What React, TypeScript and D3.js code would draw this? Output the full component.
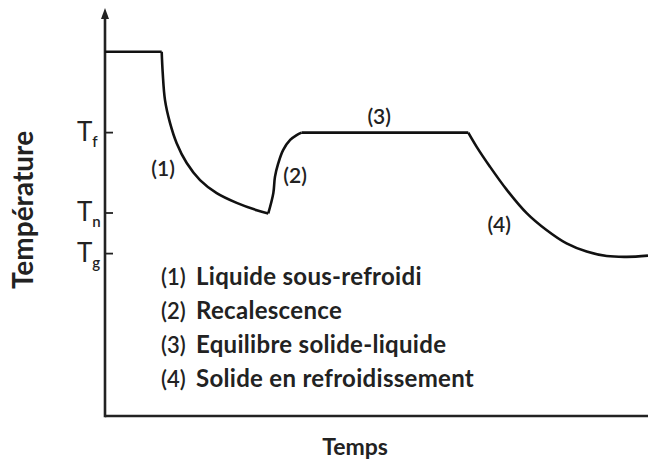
import React from "react";
import * as d3 from "d3";

// temps (unités arbitraires) et température pour chaque phase
const timeInitial = [0, 10.44];
const tempInitial = [89.7, 89.7];
const timeSousRefroidi = [10.44, 10.63, 11.05, 11.97, 13.2, 15.05, 17.5, 20.57, 24.25, 27.94, 30.07];
const tempSousRefroidi = [89.7, 84.5, 77.8, 72.2, 67.2, 62.3, 58.1, 54.9, 52.5, 50.7, 49.9];
const timeRecalescence = [30.07, 31.0, 31.3, 31.9, 32.8, 34.1, 35.3, 36.2];
const tempRecalescence = [49.9, 54.9, 58.9, 62.2, 65.5, 68.0, 69.2, 69.8];
const timeEquilibre = [36.2, 66.9];
const tempEquilibre = [69.8, 69.8];
const timeSolide = [66.9, 68.45, 70.9, 74.0, 77.7, 81.3, 85.0, 88.7, 92.4, 96.1, 100];
const tempSolide = [69.8, 66.3, 61.4, 55.7, 49.9, 45.8, 42.5, 40.5, 39.4, 39.2, 39.5];

const tickValues = [69.8, 50, 40];
const tickSubs = ["f", "n", "g"];

const phaseLabels = ["(1)", "(2)", "(3)", "(4)"];
const phaseLabelTime = [10.7, 35.0, 50.5, 72.6];
const phaseLabelTemp = [59.1, 57.4, 71.9, 45.3];

const legendNums = ["(1)", "(2)", "(3)", "(4)"];
const legendTexts = [
  "Liquide sous-refroidi",
  "Recalescence",
  "Equilibre solide-liquide",
  "Solide en refroidissement",
];

const W = 648;
const H = 463;
const FONT = "Lato, 'Open Sans', sans-serif";

export default function App() {
  const x = d3.scaleLinear().domain([0, 100]).range([105, 648]);
  const y = d3.scaleLinear().domain([0, 100]).range([416, 10]);

  const smooth = d3
    .line<[number, number]>()
    .x((d) => x(d[0]))
    .y((d) => y(d[1]))
    .curve(d3.curveCatmullRom.alpha(0.5));
  const straight = d3
    .line<[number, number]>()
    .x((d) => x(d[0]))
    .y((d) => y(d[1]));

  const zip = (t: number[], v: number[]) => t.map((d, i) => [d, v[i]] as [number, number]);

  const paths = [
    straight(zip(timeInitial, tempInitial)),
    smooth(zip(timeSousRefroidi, tempSousRefroidi)),
    smooth(zip(timeRecalescence, tempRecalescence)),
    straight(zip(timeEquilibre, tempEquilibre)),
    smooth(zip(timeSolide, tempSolide)),
  ];

  const x0 = x(0);
  const yBase = y(0);

  return (
    <svg
      width={W}
      height={H}
      style={{ position: "absolute", left: 0, top: 0, background: "#fff" }}
      fontFamily={FONT}
    >
      {/* axes */}
      <line x1={x0} y1={yBase} x2={W} y2={yBase} stroke="#222" strokeWidth={2.6} />
      <line x1={x0} y1={yBase + 1.3} x2={x0} y2={y(98)} stroke="#222" strokeWidth={2.6} />
      <path
        d={`M${x0},${y(100) - 2} L${x0 - 4},${y(98) + 1} L${x0 + 4},${y(98) + 1} Z`}
        fill="#222"
      />

      {/* ticks */}
      {tickValues.map((v, i) => (
        <g key={i} transform={`translate(${x0},${y(v)})`}>
          <line x1={0} x2={8} stroke="#222" strokeWidth={1.8} />
          <text x={-28} y={8} fontSize={26} fill="#222" textAnchor="start">
            T
            <tspan fontSize={15} fontWeight={600} dy={6}>
              {tickSubs[i]}
            </tspan>
          </text>
        </g>
      ))}

      {/* courbe */}
      {paths.map((d, i) => (
        <path key={i} d={d ?? ""} fill="none" stroke="#111" strokeWidth={2.6} strokeLinejoin="round" />
      ))}

      {/* étiquettes des phases */}
      {phaseLabels.map((l, i) => (
        <text
          key={l}
          x={x(phaseLabelTime[i])}
          y={y(phaseLabelTemp[i])}
          fontSize={21}
          fontWeight={600}
          textAnchor="middle"
          fill="#222"
        >
          {l}
        </text>
      ))}

      {/* légende */}
      {legendTexts.map((t, i) => (
        <g key={t} transform={`translate(161,${285 + i * 34})`}>
          <text fontSize={22} fontWeight={600} fill="#222">{legendNums[i]}</text>
          <text x={35} fontSize={24} fontWeight={700} letterSpacing={0.3} fill="#222">{t}</text>
        </g>
      ))}

      {/* titres des axes */}
      <text x={355} y={455} fontSize={23} fontWeight={700} textAnchor="middle" fill="#222">
        Temps
      </text>
      <text
        transform="translate(33,210) rotate(-90)"
        fontSize={28}
        fontWeight={700}
        textAnchor="middle"
        fill="#222"
      >
        Température
      </text>
    </svg>
  );
}
